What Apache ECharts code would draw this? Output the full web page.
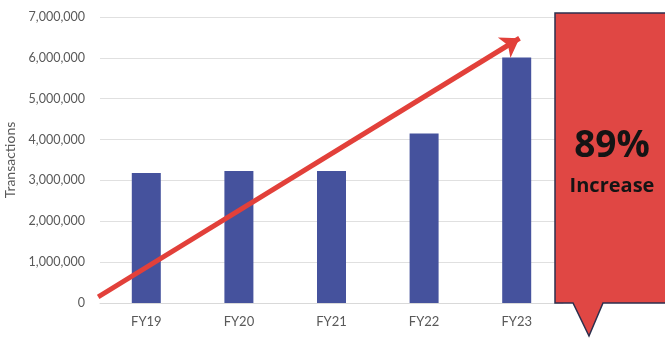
<!DOCTYPE html>
<html>
  <head>
    <meta charset="utf-8" />
    <title>Transactions FY19-FY23</title>
    <style>
      html, body { margin: 0; padding: 0; background: #fff; }
      #main { width: 665px; height: 339px; }
    </style>
  </head>
  <body>
    <div id="main"></div>
    <script src="https://cdn.jsdelivr.net/npm/echarts@6/dist/echarts.min.js"></script>
    <script>
      var categories = ["FY19", "FY20", "FY21", "FY22", "FY23"];
      var transactions = [3180000, 3230000, 3230000, 4150000, 6010000];
      // trend arrow, in [category position, value]
      var arrowFrom = [-0.52, 150000];
      var arrowTo = [4.03, 6480000];

      var pct = Math.round((transactions[4] / transactions[0] - 1) * 100);

      var chart = echarts.init(document.getElementById("main"));
      var font = "Lato, 'Open Sans', sans-serif";

      var option = {
        animation: false,
        grid: { left: 100, right: 102, top: 17, bottom: 36, outerBoundsMode: "none", containLabel: false },
        xAxis: [
          {
            type: "category",
            data: categories,
            axisLine: { lineStyle: { color: "#d9d9d9" } },
            axisTick: { show: false },
            axisLabel: { color: "#595959", fontSize: 13, fontFamily: font, margin: 12 }
          },
          {
            type: "value",
            min: -0.5,
            max: 4.5,
            show: false
          }
        ],
        yAxis: {
          type: "value",
          min: 0,
          max: 7000000,
          interval: 1000000,
          name: "Transactions",
          nameLocation: "middle",
          nameGap: 77,
          nameTextStyle: { color: "#595959", fontSize: 14, fontFamily: font },
          axisLine: { show: false },
          axisTick: { show: false },
          axisLabel: {
            color: "#595959",
            fontSize: 12.5,
            fontFamily: font,
            margin: 15,
            formatter: function (v) { return v.toLocaleString("en-US"); }
          },
          splitLine: { lineStyle: { color: "#e0e0e0" } }
        },
        series: [
          {
            type: "bar",
            data: transactions,
            barWidth: 29,
            itemStyle: { color: "#45529d" }
          },
          {
            type: "lines",
            coordinateSystem: "cartesian2d",
            xAxisIndex: 1,
            yAxisIndex: 0,
            symbol: ["none", "arrow"],
            symbolSize: 18,
            lineStyle: { color: "#e2403a", width: 5, opacity: 1 },
            data: [{ coords: [arrowFrom, arrowTo] }],
            z: 5
          }
        ],
        graphic: [
          {
            type: "polygon",
            shape: {
              points: [
                [555, 13], [672, 13], [672, 303], [603, 303],
                [589, 336], [573, 303], [555, 303]
              ]
            },
            style: { fill: "#e04744", stroke: "#2c2f4d", lineWidth: 1.5 },
            z: 10
          },
          {
            type: "text",
            z: 11,
            style: {
              x: 612,
              y: 146,
              text: pct + "%",
              align: "center",
              verticalAlign: "middle",
              font: "bold 37px 'Open Sans', Lato, sans-serif",
              fill: "#141414"
            }
          },
          {
            type: "text",
            z: 11,
            style: {
              x: 612,
              y: 186,
              text: "Increase",
              align: "center",
              verticalAlign: "middle",
              font: "bold 20px 'Open Sans', Lato, sans-serif",
              fill: "#141414"
            }
          }
        ]
      };

      chart.setOption(option);
    </script>
  </body>
</html>
